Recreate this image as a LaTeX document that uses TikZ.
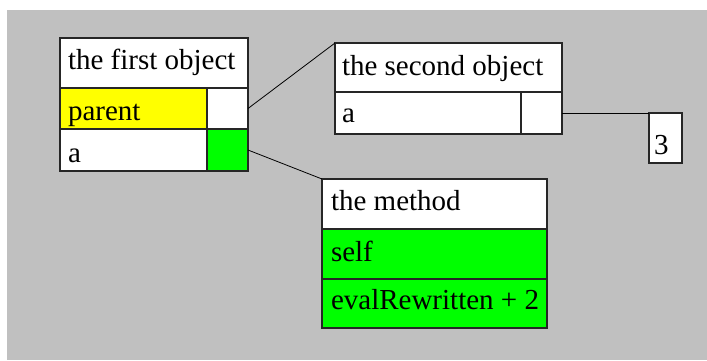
\documentclass[tikz,border=0pt]{standalone}
\usepackage{fontspec}
\setmainfont{Liberation Serif}
\definecolor{bggray}{HTML}{C0C0C0}
\definecolor{yel}{HTML}{FFFF00}
\definecolor{grn}{HTML}{00FF00}
\begin{document}
\begin{tikzpicture}[x=1pt,y=-1pt,
  cell/.style={draw=black!85,line width=1.1pt,fill=white,anchor=north west,inner sep=0pt,outer sep=0pt},
  txt/.style={anchor=base west,inner sep=0pt,outer sep=0pt,font=\fontsize{29}{31}\selectfont},
  link/.style={draw=black,line width=0.8pt}]
\useasboundingbox (0,0) rectangle (707,360);
\fill[white] (0,0) rectangle (707,360);
\fill[bggray] (7,10) rectangle (707,360);
% first object
\node[cell,minimum width=188pt,minimum height=50pt] (o1h) at (60,38) {};
\node[cell,fill=yel,minimum width=147pt,minimum height=41pt] (o1p) at (60,88) {};
\node[cell,minimum width=41pt,minimum height=41pt] (o1pv) at (207,88) {};
\node[cell,minimum width=147pt,minimum height=42pt] (o1a) at (60,129) {};
\node[cell,fill=grn,minimum width=41pt,minimum height=42pt] (o1av) at (207,129) {};
\node[txt] (t1) at (68,69) {the first object};
\node[txt] (t2) at (68,120) {parent};
\node[txt] (t3) at (68,162) {a};
% second object
\node[cell,minimum width=227pt,minimum height=49pt] (o2h) at (335,43) {};
\node[cell,minimum width=186pt,minimum height=42pt] (o2a) at (335,92) {};
\node[cell,minimum width=41pt,minimum height=42pt] (o2av) at (521,92) {};
\node[txt] (t4) at (342,75) {the second object};
\node[txt] (t5) at (342,122) {a};
% value 3
\node[cell,minimum width=33pt,minimum height=50pt] (v3) at (649,113) {};
\node[txt] (t6) at (654,154) {3};
% method
\node[cell,minimum width=225pt,minimum height=50pt] (mh) at (322,179) {};
\node[cell,fill=grn,minimum width=225pt,minimum height=50pt] (ms) at (322,229) {};
\node[cell,fill=grn,minimum width=225pt,minimum height=49pt] (me) at (322,279) {};
\node[txt] (t7) at (331,210) {the method};
\node[txt] (t8) at (331,261) {self};
\node[txt] (t9) at (331,309) {evalRewritten + 2};
% connectors
\draw[link] (o1pv.east) -- (o2h.north west);
\draw[link] (o1av.east) -- (mh.north west);
\draw[link] (o2av.east) -- (v3.north west);
\end{tikzpicture}
\end{document}
